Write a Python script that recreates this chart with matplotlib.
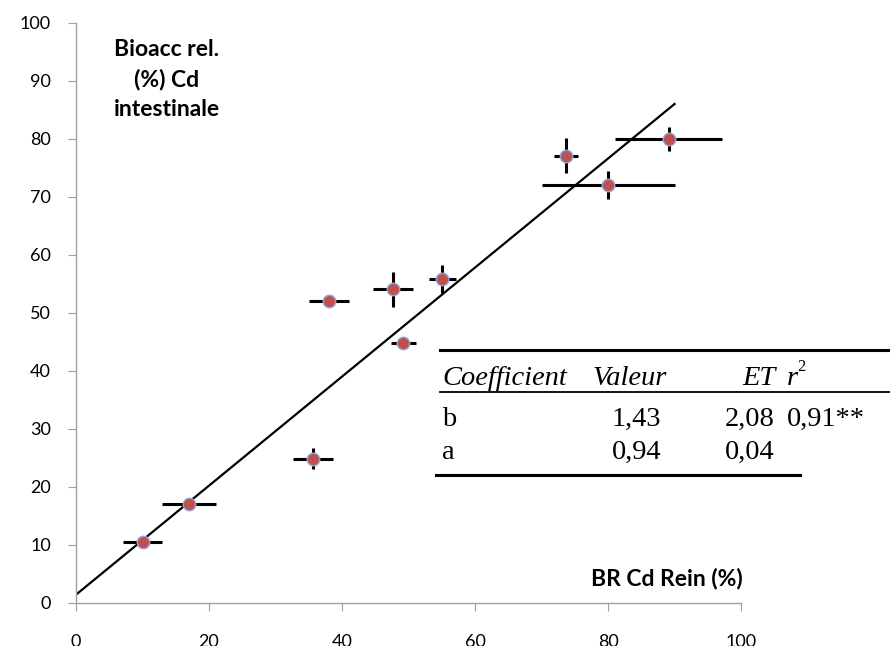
import matplotlib
matplotlib.use("Agg")
import matplotlib.pyplot as plt
from matplotlib.lines import Line2D

# ── data ─────────────────────────────────────────────────
br_rein = [10.0, 17.0, 35.7, 38.1, 47.6, 49.2, 55.1, 73.7, 80.0, 89.1]
bioacc = [10.5, 17.0, 24.9, 52.0, 54.1, 44.9, 55.9, 77.1, 72.0, 80.0]
x_err = [3.0, 4.0, 3.0, 3.0, 3.0, 1.9, 2.0, 1.8, 10.0, 8.0]
y_err = [0.0, 0.0, 1.8, 0.6, 3.0, 0.5, 2.4, 3.0, 2.4, 2.1]

intercept_b = 1.43
slope_a = 0.94
fit_x = [0, 90]

table_header = ["Coefficient", "Valeur", "ET", "r"]
table_rows = [["b", "1,43", "2,08", "0,91**"],
              ["a", "0,94", "0,04", ""]]

y_ticks = list(range(0, 101, 10))
x_ticks = list(range(0, 101, 20))

# ── figure ───────────────────────────────────────────────
fig = plt.figure(figsize=(8.9, 6.46), dpi=100)
ax = fig.add_axes([0.0854, 0.0666, 0.7472, 0.8978])

fit_y = [intercept_b + slope_a * v for v in fit_x]
ax.plot(fit_x, fit_y, color="black", lw=1.6, zorder=2)

ax.errorbar(br_rein, bioacc, xerr=x_err, yerr=y_err, fmt="none",
            ecolor="black", elinewidth=2.2, capsize=0, zorder=3)
ax.plot(br_rein, bioacc, "o", ms=9, mfc="#c0504d", mec="#8eaadb",
        mew=1.0, ls="none", zorder=4)

ax.set_xlim(0, 100)
ax.set_ylim(0, 100)
ax.set_xticks(x_ticks)
ax.set_yticks(y_ticks)

for s in ["top", "right"]:
    ax.spines[s].set_visible(False)
for s in ["left", "bottom"]:
    ax.spines[s].set_color("#a0a0a0")
    ax.spines[s].set_linewidth(1.0)

ax.tick_params(axis="both", direction="out", length=6, color="#a0a0a0",
               labelsize=13)
ax.tick_params(axis="x", pad=16)
ax.tick_params(axis="y", pad=12)
for lab in ax.get_xticklabels() + ax.get_yticklabels():
    lab.set_fontfamily("Lato")

ax.text(13.6, 90.3, "Bioacc rel.\n(%) Cd\nintestinale", ha="center",
        va="center", fontsize=16.5, fontweight="bold", family="Lato",
        linespacing=1.5)
ax.text(100.2, 4.3, "BR Cd Rein (%)", ha="right", va="center",
        fontsize=16.5, fontweight="bold", family="Lato")

# ── coefficient table (figure coordinates) ───────────────
W, H = 890.0, 646.0
def fx(px):
    return px / W
def fy(py):
    return 1 - py / H

fig.add_artist(Line2D([fx(440), fx(890)], [fy(350), fy(350)],
                      color="black", lw=2.2))
fig.add_artist(Line2D([fx(440), fx(890)], [fy(392), fy(392)],
                      color="black", lw=1.3))
fig.add_artist(Line2D([fx(436), fx(800)], [fy(475), fy(475)],
                      color="black", lw=2.2))

serif = "Liberation Serif"
fs = 20.5
col_x = [442, 593, 776, 787]
col_ha = ["left", "left", "right", "left"]
for txt, cx, ha in zip(table_header, col_x, col_ha):
    fig.text(fx(cx), fy(385), txt, ha=ha, va="baseline", fontsize=fs,
             family=serif, style="italic")
fig.text(fx(797), fy(371), "2", ha="left", va="baseline", fontsize=12,
         family=serif)

row_x = [442, 612, 725, 787]
row_y = [426, 459]
for row, ry in zip(table_rows, row_y):
    for txt, cx in zip(row, row_x):
        fig.text(fx(cx), fy(ry), txt, ha="left", va="baseline", fontsize=fs,
                 family=serif)

fig.savefig("out.png", dpi=100)
